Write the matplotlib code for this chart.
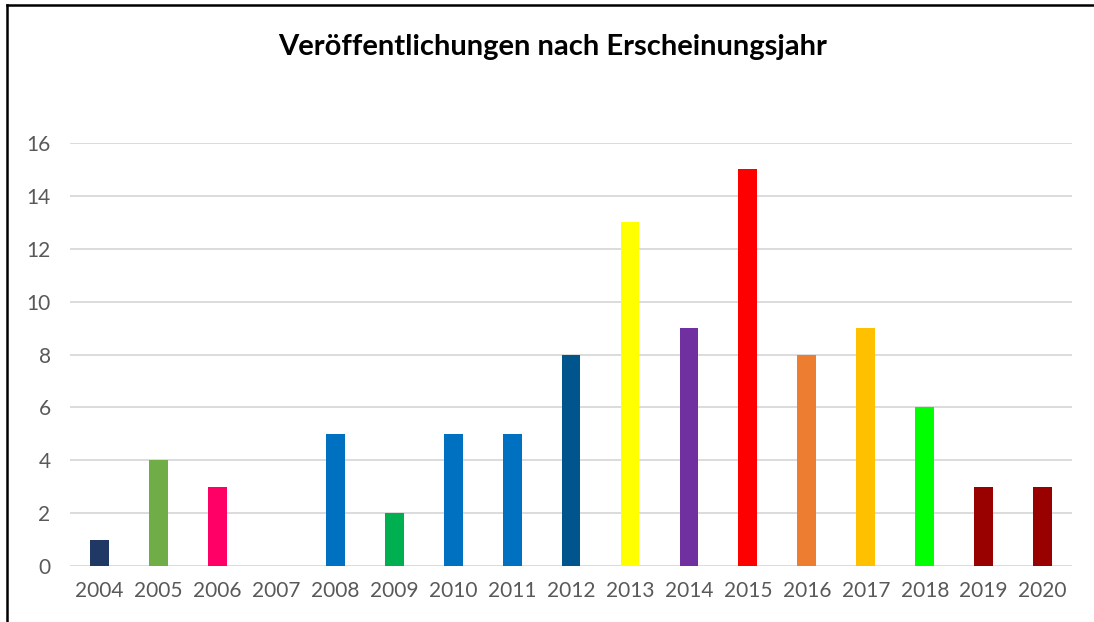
import matplotlib.pyplot as plt
from matplotlib.lines import Line2D

jahre = ['2004', '2005', '2006', '2007', '2008', '2009', '2010', '2011', '2012',
         '2013', '2014', '2015', '2016', '2017', '2018', '2019', '2020']
anzahl = [1, 4, 3, 0, 5, 2, 5, 5, 8, 13, 9, 15, 8, 9, 6, 3, 3]
farben = ['#1F3864', '#70AD47', '#FF0066', '#4472C4', '#0070C0', '#00B050',
          '#0070C0', '#0070C0', '#00568C', '#FFFF00', '#7030A0', '#FF0000',
          '#ED7D31', '#FFC000', '#00FF00', '#990000', '#990000']

plt.rcParams['font.family'] = ['Lato', 'DejaVu Sans']

fig = plt.figure(figsize=(10.94, 6.22), dpi=100)
ax = fig.add_axes([0.064, 0.090, 0.916, 0.680])

x = range(len(jahre))
ax.bar(x, anzahl, width=0.32, color=farben, zorder=3)

ax.set_xlim(-0.5, len(jahre) - 0.5)
ax.set_ylim(0, 16)
ax.set_yticks(range(0, 17, 2))
ax.set_xticks(list(x))
ax.set_xticklabels(jahre)
ax.tick_params(axis='both', length=0, labelsize=15, colors='#595959')
ax.tick_params(axis='x', pad=11)
ax.tick_params(axis='y', pad=14)
ax.grid(axis='y', color='#D9D9D9', linewidth=1.3, zorder=0)
for s in ax.spines.values():
    s.set_visible(False)

fig.text(0.505, 0.925, 'Veröffentlichungen nach Erscheinungsjahr',
         ha='center', va='center', fontsize=21, fontweight='bold', color='black')

# Rahmen oben und links
fig.add_artist(Line2D([0.0065, 0.0065], [0, 0.992], transform=fig.transFigure,
                      color='black', linewidth=1.8))
fig.add_artist(Line2D([0.0065, 1.0], [0.992, 0.992], transform=fig.transFigure,
                      color='black', linewidth=1.8))

fig.savefig('out.png', dpi=100)
